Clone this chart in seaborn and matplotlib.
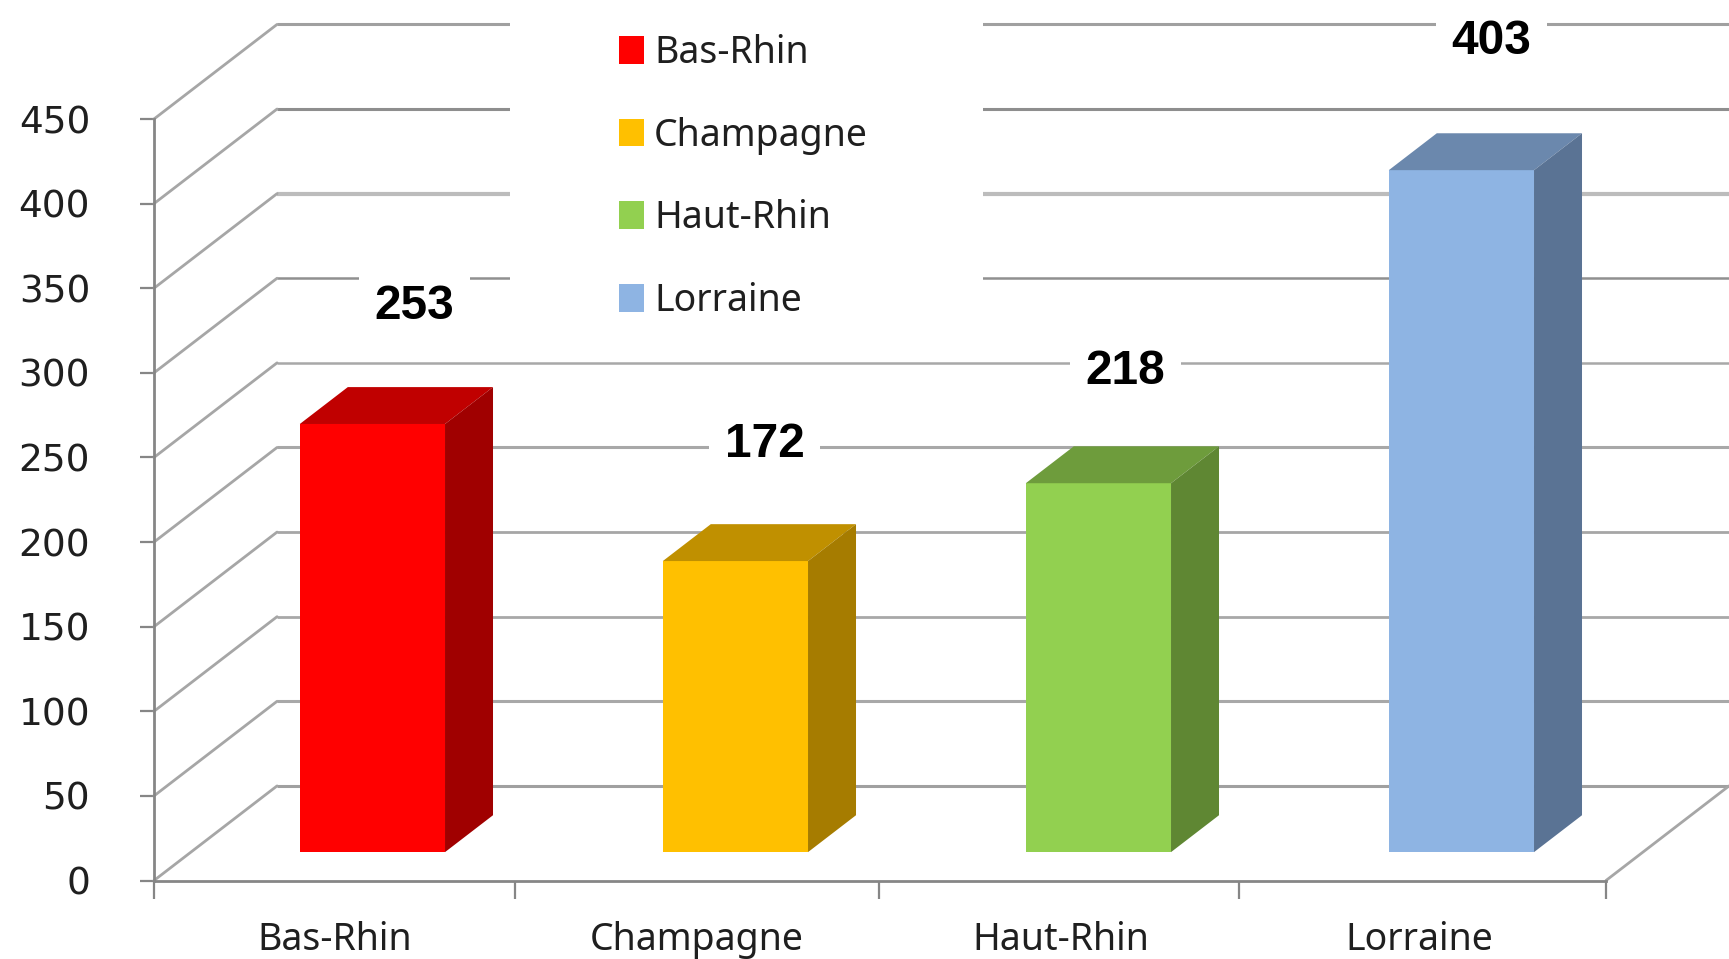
import pandas as pd
import matplotlib
matplotlib.use('Agg')
import matplotlib.pyplot as plt
from matplotlib.patches import Patch, Rectangle
import seaborn as sns

# Chart data
regions = ['Bas-Rhin', 'Champagne', 'Haut-Rhin', 'Lorraine']
totals = [253, 172, 218, 403]
y_ticks = [0, 50, 100, 150, 200, 250, 300, 350, 400, 450]

# Colours of the three bar faces
front_colors = ['#FF0000', '#FFC000', '#92D050', '#8EB4E3']
top_colors = ['#C00000', '#C09000', '#6E9C3C', '#6B88AD']
side_colors = ['#A00000', '#A67C00', '#5F8733', '#5A7394']

# Fake 3D: how far the back wall sits from the front plane (categories, data units)
depth_x = 0.339
depth_y = 55.9
# Bars stand between these two fractions of the depth
bar_start = 0.30
bar_depth = 0.39

# Gridline look, bottom to top
grid_colors = ['#a0a0a0', '#a8a8a8', '#a8a8a8', '#a6a6a6', '#a8a8a8',
               '#a8a8a8', '#909090', '#bcbcbc', '#8e8e8e', '#a0a0a0']
grid_widths = [2.2, 2.2, 2.0, 2.0, 2.2, 1.8, 1.8, 3.0, 2.2, 2.2]
# Label offset from the front top of each bar, in pixels
label_offsets = [(42, 117), (29, 117), (27, 112), (30, 129)]

df = pd.DataFrame({'region': regions, 'total': totals})

sns.set_style('white')
plt.rcParams['font.family'] = ['Noto Sans', 'DejaVu Sans']

fig = plt.figure(figsize=(17.29, 9.59), dpi=100)
ax = fig.add_axes([154 / 1729, 1 - 880.5 / 959, (1606 - 154) / 1729, (880.5 - 119) / 959])

sns.barplot(data=df, x='region', y='total', hue='region', palette=front_colors,
            saturation=1, width=0.4, linewidth=0, legend=False, zorder=3, ax=ax)
ax.set_xlim(-0.5, 3.5)
ax.set_ylim(0, 450)
ax.set_xlabel('')
ax.set_ylabel('')

# Move the bars back into the box and add the top and side faces
bars = list(ax.patches)
for bar, top_c, side_c in zip(bars, top_colors, side_colors):
    bar.set_x(bar.get_x() + bar_start * depth_x)
    bar.set_y(bar_start * depth_y)
    x0, x1 = bar.get_x(), bar.get_x() + bar.get_width()
    y0, y1 = bar.get_y(), bar.get_y() + bar.get_height()
    ddx, ddy = bar_depth * depth_x, bar_depth * depth_y
    ax.fill([x0, x1, x1 + ddx, x0 + ddx], [y1, y1, y1 + ddy, y1 + ddy],
            color=top_c, lw=0, zorder=3, clip_on=False)
    ax.fill([x1, x1 + ddx, x1 + ddx, x1], [y0, y0 + ddy, y1 + ddy, y1],
            color=side_c, lw=0, zorder=3, clip_on=False)

# Gridlines on the back wall and the left side wall
for v, c, w in zip(y_ticks, grid_colors, grid_widths):
    ax.plot([-0.5 + depth_x, 3.5 + depth_x], [v + depth_y, v + depth_y],
            color=c, lw=w, zorder=1, clip_on=False, solid_capstyle='butt')
    ax.plot([-0.5, -0.5 + depth_x], [v, v + depth_y],
            color='#a6a6a6', lw=2, zorder=1, clip_on=False)
ax.plot([3.5, 3.5 + depth_x], [0, depth_y], color='#a6a6a6', lw=2, zorder=1, clip_on=False)

# White area behind the legend cuts the upper gridlines
ax.add_patch(Rectangle((510 / 1729, 1 - 320 / 959), 473 / 1729, 320 / 959,
                       transform=fig.transFigure, fc='white', ec='none', zorder=2, clip_on=False))

# Axes
sns.despine(ax=ax)
for side in ['left', 'bottom']:
    ax.spines[side].set_color('#868686')
    ax.spines[side].set_linewidth(2)
    ax.spines[side].set_zorder(2.5)
ax.set_yticks(y_ticks)
ax.tick_params(axis='y', left=True, length=10, width=1.6, color='#868686', pad=36,
               labelsize=27, labelcolor='#1f1f1f', labelfontfamily='DejaVu Sans')
ax.set_xticks([-0.003, 0.994, 1.997, 2.985], regions)
ax.set_xticks([-0.5, 0.494, 1.497, 2.49, 3.5], minor=True)
ax.tick_params(axis='x', which='major', bottom=False, pad=26, labelsize=27, labelcolor='#1f1f1f')
ax.tick_params(axis='x', which='minor', bottom=True, length=13, width=1.6, color='#868686')

# Value labels
for bar, total, (off_x, off_y) in zip(bars, totals, label_offsets):
    ax.annotate(str(total), (bar.get_x() + bar.get_width() / 2, bar.get_y() + total),
                xytext=(off_x * 0.72, off_y * 0.72), textcoords='offset points',
                ha='center', va='center', fontsize=34.5, fontweight='bold', color='black',
                family='Liberation Sans', annotation_clip=False, zorder=6,
                bbox=dict(boxstyle='square,pad=0.32', fc='white', ec='none'))

# Legend
handles = [Patch(facecolor=c, edgecolor='none', label=r) for c, r in zip(front_colors, regions)]
leg = ax.legend(handles=handles, loc='upper left', bbox_to_anchor=(619 / 1729, 1 - 34 / 959),
                bbox_transform=fig.transFigure, frameon=False, fontsize=27, borderpad=0,
                borderaxespad=0, handlelength=0.67, handleheight=0.75, handletextpad=0.27,
                labelspacing=1.19, labelcolor='#1f1f1f')
leg.set_zorder(6)

plt.savefig('out.png', dpi=100)
